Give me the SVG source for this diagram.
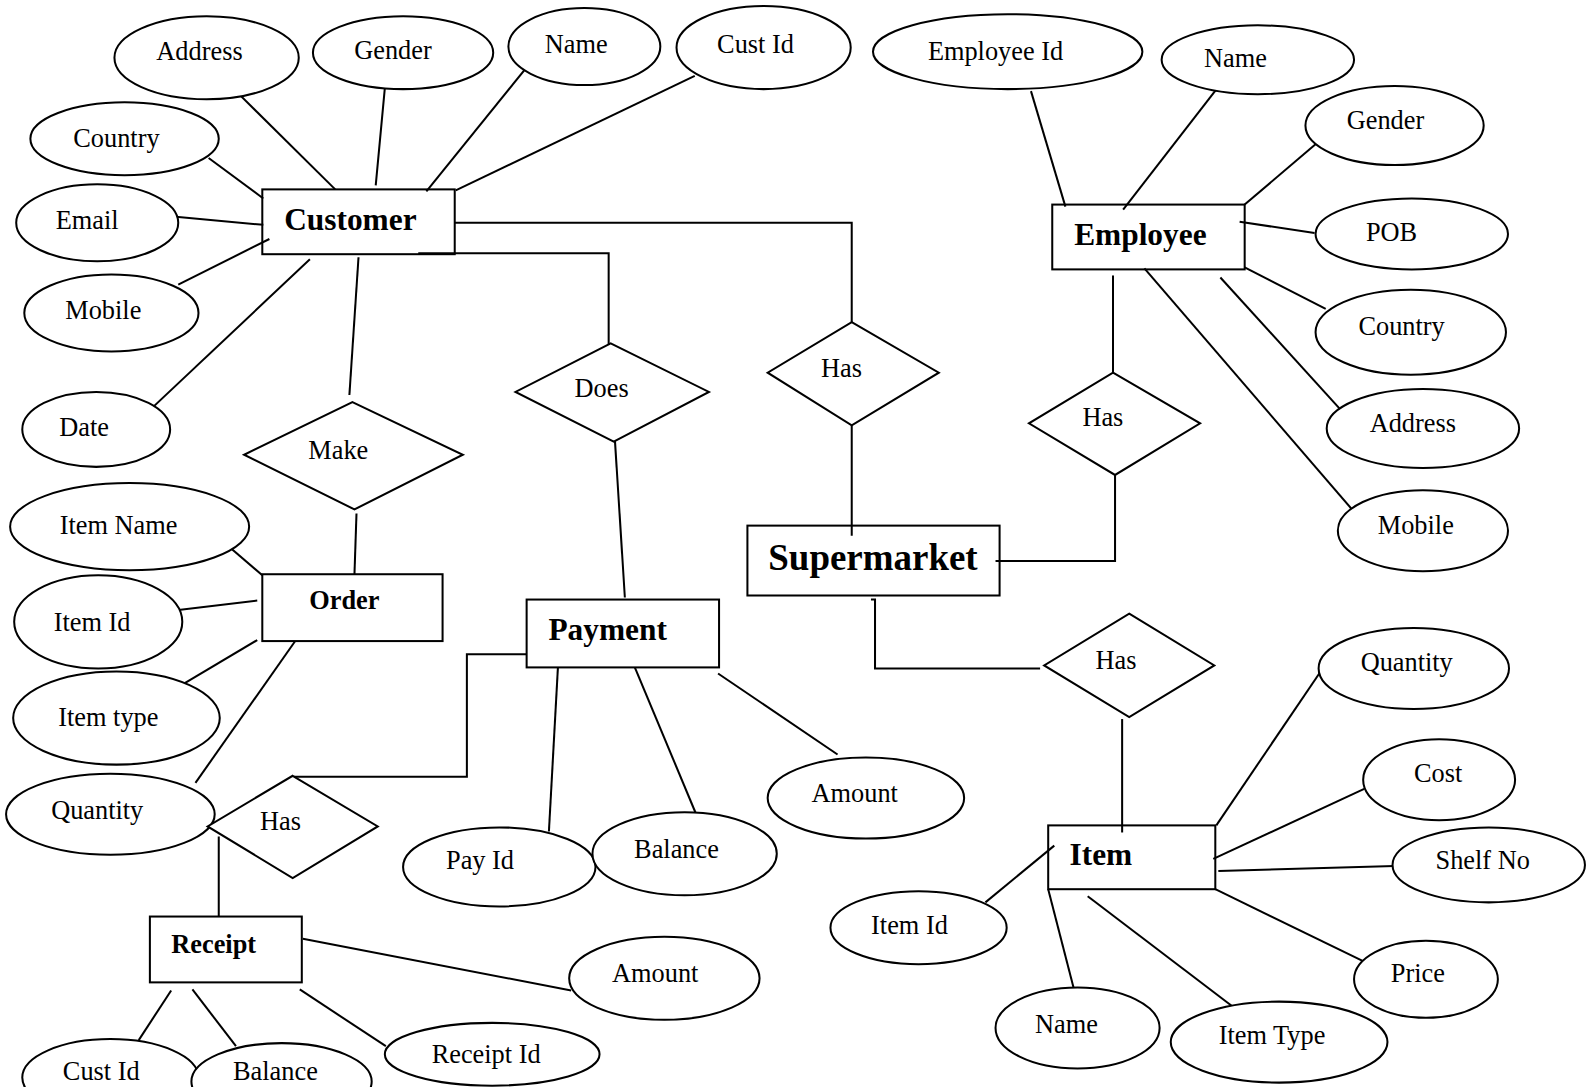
<svg xmlns="http://www.w3.org/2000/svg" width="1588" height="1087" viewBox="0 0 1588 1087">
<style>
.e{fill:#fff;stroke:#000;stroke-width:2}
.r{fill:#fff;stroke:#000;stroke-width:2}
.d{fill:#fff;stroke:#000;stroke-width:2}
.c line,.c polyline{stroke:#000;stroke-width:2;fill:none}
text{font-family:"Liberation Serif","Times New Roman",serif;fill:#000;text-anchor:middle}
.a{font-size:26px}
.b{font-size:31px;font-weight:bold}
.bs{font-size:26px;font-weight:bold}
.bl{font-size:36.5px;font-weight:bold}
</style>
<rect width="1588" height="1087" fill="#fff"/>
<g transform="scale(1.012755)">
<g id="connectors" class="c">
<line x1="233" y1="90" x2="331" y2="187"/>
<line x1="380" y1="87" x2="371" y2="183"/>
<line x1="518" y1="69" x2="421" y2="189"/>
<line x1="686" y1="75" x2="450" y2="188"/>
<line x1="206" y1="156" x2="260" y2="196"/>
<line x1="163" y1="213" x2="260" y2="222"/>
<line x1="176" y1="281" x2="266" y2="236"/>
<line x1="151" y1="402" x2="306" y2="256"/>
<line x1="354" y1="254" x2="345" y2="390"/>
<polyline points="449,220 841,220 841,318"/>
<polyline points="413,250 601,250 601,352"/>
<line x1="352" y1="507" x2="350" y2="567"/>
<line x1="217" y1="532" x2="259" y2="568"/>
<line x1="170" y1="603" x2="254" y2="593"/>
<line x1="170" y1="682" x2="254" y2="632"/>
<line x1="193" y1="773" x2="295" y2="628"/>
<polyline points="524,646 461,646 461,767 290,767"/>
<polyline points="216,826 216,908 222,908"/>
<line x1="299" y1="927" x2="564" y2="978"/>
<line x1="169" y1="978" x2="137" y2="1027"/>
<line x1="190" y1="977" x2="233" y2="1033"/>
<line x1="296" y1="977" x2="381" y2="1033"/>
<line x1="607" y1="432" x2="617" y2="590"/>
<line x1="551" y1="657" x2="542" y2="821"/>
<line x1="626" y1="657" x2="687" y2="803"/>
<line x1="709" y1="665" x2="827" y2="745"/>
<line x1="841" y1="420" x2="841" y2="529"/>
<polyline points="983,554 1101,554 1101,469"/>
<polyline points="860,592 864,592 864,660 1027,660"/>
<line x1="1108" y1="710" x2="1108" y2="822"/>
<line x1="1304" y1="663" x2="1201" y2="815"/>
<line x1="1347" y1="779" x2="1198" y2="848"/>
<line x1="1377" y1="855" x2="1203" y2="860"/>
<line x1="1350" y1="951" x2="1200" y2="878"/>
<line x1="1220" y1="996" x2="1074" y2="885"/>
<line x1="1060" y1="975" x2="1035" y2="878"/>
<line x1="973" y1="891" x2="1041" y2="835"/>
<line x1="1018" y1="90" x2="1052" y2="204"/>
<line x1="1202" y1="87" x2="1109" y2="207"/>
<line x1="1303" y1="139" x2="1229" y2="202"/>
<line x1="1298" y1="230" x2="1224" y2="219"/>
<line x1="1309" y1="305" x2="1229" y2="264"/>
<line x1="1325" y1="406" x2="1205" y2="274"/>
<line x1="1335" y1="503" x2="1130" y2="265"/>
<line x1="1099" y1="272" x2="1099" y2="374"/>
</g>

<g id="customer"><rect class="r" x="259" y="187" width="190" height="64" style="fill:none"/><text class="b" x="346" y="227">Customer</text></g>
<g id="c-address"><ellipse class="e" cx="204" cy="57" rx="91" ry="41"/><text class="a" x="197" y="59">Address</text></g>
<g id="c-gender"><ellipse class="e" cx="398" cy="52" rx="89" ry="36"/><text class="a" x="388" y="58">Gender</text></g>
<g id="c-name"><ellipse class="e" cx="577" cy="46" rx="75" ry="38"/><text class="a" x="569" y="52">Name</text></g>
<g id="c-custid"><ellipse class="e" cx="754" cy="47" rx="86" ry="41"/><text class="a" x="746" y="52">Cust Id</text></g>
<g id="c-country"><ellipse class="e" cx="123" cy="137" rx="93" ry="36"/><text class="a" x="115" y="145">Country</text></g>
<g id="c-email"><ellipse class="e" cx="96" cy="220" rx="80" ry="38"/><text class="a" x="86" y="226">Email</text></g>
<g id="c-mobile"><ellipse class="e" cx="110" cy="309" rx="86" ry="38"/><text class="a" x="102" y="315">Mobile</text></g>
<g id="c-date"><ellipse class="e" cx="95" cy="424" rx="73" ry="37"/><text class="a" x="83" y="431">Date</text></g>

<g id="make"><polygon class="d" points="348,397 457,449 350,503 241,449"/><text class="a" x="334" y="453">Make</text></g>
<g id="does"><polygon class="d" points="603,339 700,387 606,436 509,387"/><text class="a" x="594" y="392">Does</text></g>
<g id="has-cs"><polygon class="d" points="841,318 927,368 841,420 758,368"/><text class="a" x="831" y="372">Has</text></g>

<g id="order"><rect class="r" x="259" y="567" width="178" height="66"/><text class="bs" x="340" y="601">Order</text></g>
<g id="o-itemname"><ellipse class="e" cx="128" cy="520" rx="118" ry="43"/><text class="a" x="117" y="527">Item Name</text></g>
<g id="o-itemid"><ellipse class="e" cx="97" cy="614" rx="83" ry="46"/><text class="a" x="91" y="623">Item Id</text></g>
<g id="o-itemtype"><ellipse class="e" cx="115" cy="709" rx="102" ry="46"/><text class="a" x="107" y="717">Item type</text></g>
<g id="o-quantity"><ellipse class="e" cx="109" cy="804" rx="103" ry="40"/><text class="a" x="96" y="809">Quantity</text></g>

<g id="has-pr"><polygon class="d" points="289,766 373,816 289,867 205,816"/><text class="a" x="277" y="820">Has</text></g>

<g id="receipt"><rect class="r" x="148" y="905" width="150" height="65"/><text class="bs" x="211" y="941">Receipt</text></g>
<g id="r-amount"><ellipse class="e" cx="656" cy="966" rx="94" ry="41"/><text class="a" x="647" y="970">Amount</text></g>
<g id="r-receiptid"><ellipse class="e" cx="486" cy="1041" rx="106" ry="31"/><text class="a" x="480" y="1050">Receipt Id</text></g>
<g id="r-custid"><ellipse class="e" cx="109" cy="1064" rx="87" ry="38"/><text class="a" x="100" y="1066">Cust Id</text></g>
<g id="r-balance"><ellipse class="e" cx="278" cy="1068" rx="89" ry="38"/><text class="a" x="272" y="1066">Balance</text></g>

<g id="payment"><rect class="r" x="520" y="592" width="190" height="67"/><text class="b" x="600" y="632">Payment</text></g>
<g id="p-payid"><ellipse class="e" cx="493" cy="856" rx="95" ry="39"/><text class="a" x="474" y="858">Pay Id</text></g>
<g id="p-balance"><ellipse class="e" cx="676" cy="843" rx="91" ry="41"/><text class="a" x="668" y="847">Balance</text></g>
<g id="p-amount"><ellipse class="e" cx="855" cy="788" rx="97" ry="40"/><text class="a" x="844" y="792">Amount</text></g>

<g id="supermarket"><rect class="r" x="738" y="519" width="249" height="69" style="fill:none"/><text class="bl" x="862" y="563">Supermarket</text></g>

<g id="has-si"><polygon class="d" points="1115,606 1199,657 1115,708 1031,657"/><text class="a" x="1102" y="661">Has</text></g>

<g id="item"><rect class="r" x="1035" y="815" width="165" height="63" style="fill:none"/><text class="b" x="1087" y="854">Item</text></g>
<g id="i-quantity"><ellipse class="e" cx="1396" cy="660" rx="94" ry="40"/><text class="a" x="1389" y="663">Quantity</text></g>
<g id="i-cost"><ellipse class="e" cx="1421" cy="770" rx="75" ry="40"/><text class="a" x="1420" y="772">Cost</text></g>
<g id="i-shelfno"><ellipse class="e" cx="1470" cy="854" rx="95" ry="37"/><text class="a" x="1464" y="858">Shelf No</text></g>
<g id="i-price"><ellipse class="e" cx="1408" cy="967" rx="71" ry="38"/><text class="a" x="1400" y="970">Price</text></g>
<g id="i-itemtype"><ellipse class="e" cx="1263" cy="1029" rx="107" ry="40"/><text class="a" x="1256" y="1031">Item Type</text></g>
<g id="i-name"><ellipse class="e" cx="1064" cy="1015" rx="81" ry="40"/><text class="a" x="1053" y="1020">Name</text></g>
<g id="i-itemid"><ellipse class="e" cx="907" cy="916" rx="87" ry="36"/><text class="a" x="898" y="922">Item Id</text></g>

<g id="employee"><rect class="r" x="1039" y="202" width="190" height="64" style="fill:none"/><text class="b" x="1126" y="242">Employee</text></g>
<g id="e-employeeid"><ellipse class="e" cx="995" cy="51" rx="133" ry="37"/><text class="a" x="983" y="59">Employee Id</text></g>
<g id="e-name"><ellipse class="e" cx="1242" cy="59" rx="95" ry="34"/><text class="a" x="1220" y="66">Name</text></g>
<g id="e-gender"><ellipse class="e" cx="1377" cy="124" rx="88" ry="39"/><text class="a" x="1368" y="127">Gender</text></g>
<g id="e-pob"><ellipse class="e" cx="1394" cy="231" rx="95" ry="35"/><text class="a" x="1374" y="238">POB</text></g>
<g id="e-country"><ellipse class="e" cx="1393" cy="328" rx="94" ry="42"/><text class="a" x="1384" y="331">Country</text></g>
<g id="e-address"><ellipse class="e" cx="1405" cy="423" rx="95" ry="39"/><text class="a" x="1395" y="427">Address</text></g>
<g id="e-mobile"><ellipse class="e" cx="1405" cy="524" rx="84" ry="40"/><text class="a" x="1398" y="527">Mobile</text></g>

<g id="has-es"><polygon class="d" points="1099,368 1185,418 1101,469 1016,418"/><text class="a" x="1089" y="421">Has</text></g>
</g>
</svg>
